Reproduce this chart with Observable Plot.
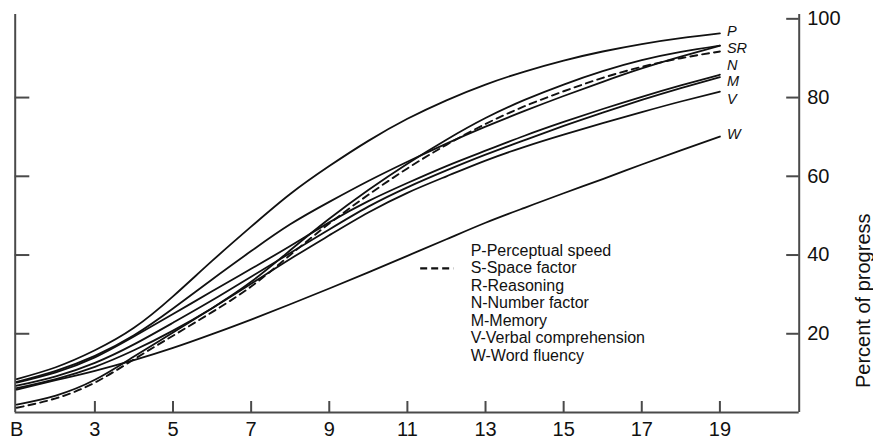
<!DOCTYPE html>
<html><head><meta charset="utf-8">
<script src="https://cdn.jsdelivr.net/npm/d3@7"></script>
<script src="https://cdn.jsdelivr.net/npm/@observablehq/plot@0.6"></script>
<style>
body{margin:0;background:#fff;}
#chart{width:873px;height:438px;}
</style>
</head><body><div id="chart"></div>
<script>
// ages (B = birth, plotted at 1)
const ages = [1,2,3,4,5,6,7,8,9,10,11,12,13,14,15,16,17,18,19];
// percent of progress
const curveP  = [8.5, 11.5, 15.8, 21.5, 29.5, 38.5, 47.2, 55.5, 62.6, 69.0, 74.6, 79.3, 83.3, 86.6, 89.4, 91.7, 93.6, 95.1, 96.3];
const curveX  = [7.8, 10.6, 14.4, 19.6, 26.4, 33.8, 41.0, 47.8, 53.5, 58.8, 63.7, 68.3, 72.6, 76.6, 80.4, 84.0, 87.4, 90.4, 93.2];
const curveR  = [2.0, 4.3, 8.3, 14.2, 20.3, 26.5, 33.2, 41.2, 49.2, 56.5, 63.2, 69.3, 74.8, 79.4, 83.3, 86.7, 89.5, 91.6, 93.2];
const curveS  = [1.2, 3.6, 7.6, 13.5, 19.5, 25.5, 32.0, 40.0, 48.0, 55.3, 62.0, 68.0, 73.3, 77.8, 81.6, 85.0, 87.8, 90.0, 91.7];
const curveN  = [7.6, 10.2, 14.0, 19.3, 25.0, 30.8, 36.5, 42.3, 48.3, 53.7, 58.3, 62.6, 66.5, 70.3, 73.8, 77.1, 80.2, 83.1, 85.8];
const curveM  = [6.8, 9.2, 12.6, 17.3, 22.8, 28.5, 34.5, 40.5, 46.5, 52.3, 57.2, 61.5, 65.5, 69.2, 72.8, 76.2, 79.4, 82.4, 85.2];
const curveV  = [6.2, 8.5, 11.6, 15.8, 20.8, 26.5, 32.7, 39.0, 45.0, 50.8, 55.8, 60.0, 64.0, 67.5, 70.6, 73.5, 76.3, 79.0, 81.5];
const curveW  = [5.8, 8.2, 10.6, 13.3, 16.4, 19.9, 23.6, 27.5, 31.5, 35.6, 39.8, 44.0, 48.2, 52.0, 55.7, 59.3, 63.0, 66.6, 70.1];

const xTickValues = [1,3,5,7,9,11,13,15,17,19];
const xTickLabels = ["B","3","5","7","9","11","13","15","17","19"];
const yTicksRight = [20,40,60,80,100];
const yTicksLeft  = [20,40,60,80];

const endLabels = ["P","SR","N","M","V","W"];
const endLabelValues = [96.9, 92.6, 88.2, 84.1, 79.5, 70.6];

const legendLines = ["P-Perceptual speed","S-Space factor","R-Reasoning","N-Number factor","M-Memory","V-Verbal comprehension","W-Word fluency"];
const yTitle = "Percent of progress";

// build long tables
const solidSeries = {P: curveP, X: curveX, R: curveR, N: curveN, M: curveM, V: curveV, W: curveW};
const solidRows = [];
for (const [k, arr] of Object.entries(solidSeries)) arr.forEach((v, i) => solidRows.push({key: k, age: ages[i], value: v}));
const dashedRows = curveS.map((v, i) => ({key: "S", age: ages[i], value: v}));

const layout = {legendX: 12.62, legendY: 27.9, swatchX1: 11.34, swatchX2: 12.19, swatchY: 36.6};

const font = "'Liberation Sans', Arial, Helvetica, sans-serif";
const axisColor = "#4a4a4a";
const W = 873, H = 438;
const mL = 14.7, mR = 74.3, mT = 14, mB = 26;
const innerW = W - mL - mR, innerH = H - mT - mB;

const chart = Plot.plot({
  width: W, height: H,
  marginLeft: mL, marginRight: mR, marginTop: mT, marginBottom: mB,
  style: {fontFamily: font, background: "#fff", color: "#111", overflow: "visible"},
  x: {domain: [0.96, 21.03]},
  y: {domain: [0, 101.1]},
  marks: [
    Plot.ruleX([0.96, 21.03], {stroke: axisColor, strokeWidth: 2}),
    Plot.ruleY([0], {stroke: axisColor, strokeWidth: 2}),
    Plot.tickX(xTickValues.slice(1), {x: d => d, stroke: axisColor, strokeWidth: 2, insetTop: innerH - 11}),
    Plot.tickY(yTicksRight, {y: d => d, stroke: axisColor, strokeWidth: 2, insetLeft: innerW - 12.5}),
    Plot.tickY(yTicksLeft, {y: d => d, stroke: axisColor, strokeWidth: 2, insetRight: innerW - 14.6}),
    Plot.axisX({ticks: xTickValues, tickFormat: d => xTickLabels[xTickValues.indexOf(d)], tickSize: 0, tickPadding: 9, fontSize: 20, label: null}),
    Plot.axisY({anchor: "right", ticks: yTicksRight, tickSize: 0, tickPadding: 8, fontSize: 20, label: null}),
    Plot.text([yTitle], {frameAnchor: "right", rotate: -90, dx: 64, fontSize: 20, fill: "#111"}),
    Plot.line(solidRows, {x: "age", y: "value", z: "key", curve: "natural", stroke: "#111", strokeWidth: 1.8}),
    Plot.line(dashedRows, {x: "age", y: "value", curve: "natural", stroke: "#111", strokeWidth: 1.9, strokeDasharray: "7,5"}),
    Plot.text(endLabels, {x: 19, y: (d, i) => endLabelValues[i], text: d => d, dx: 7, textAnchor: "start", fontSize: 14.5, fontStyle: "italic", fill: "#111"}),
    Plot.text([legendLines.join("\n")], {x: layout.legendX, y: layout.legendY, textAnchor: "start", lineAnchor: "middle", lineHeight: 1.094, fontSize: 16, fill: "#111"}),
    Plot.ruleY([layout.swatchY], {x1: layout.swatchX1, x2: layout.swatchX2, stroke: "#111", strokeWidth: 2.2, strokeDasharray: "7,4"})
  ]
});
document.getElementById("chart").appendChild(chart);
</script>
</body></html>
